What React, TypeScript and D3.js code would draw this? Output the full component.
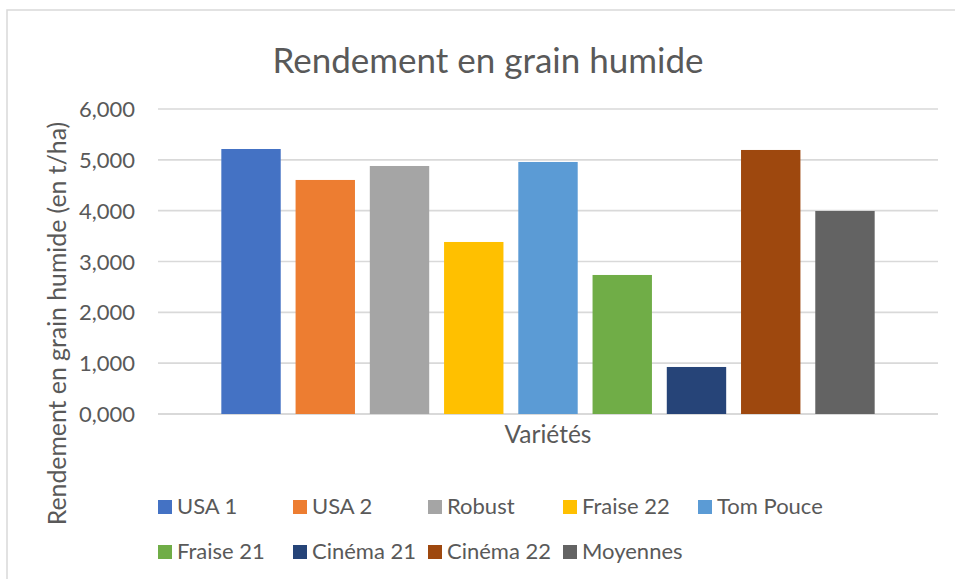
import React from "react";
import * as d3 from "d3";

const categories = ["USA 1", "USA 2", "Robust", "Fraise 22", "Tom Pouce", "Fraise 21", "Cinéma 21", "Cinéma 22", "Moyennes"];
const values = [5.213, 4.604, 4.879, 3.384, 4.958, 2.735, 0.925, 5.194, 3.994];
const colors = ["#4472C4", "#ED7D31", "#A5A5A5", "#FFC000", "#5B9BD5", "#70AD47", "#264478", "#9E480E", "#636363"];
const yTicks = [0, 1, 2, 3, 4, 5, 6];
const title = "Rendement en grain humide";
const yTitle = "Rendement en grain humide (en t/ha)";
const xTitle = "Variétés";

const W = 955;
const H = 579;
const FONT = "Lato, 'Noto Sans', sans-serif";
const TEXT = "#595959";
const GRID = "#D9D9D9";

const plot = { left: 158, right: 938, top: 109, bottom: 414 };

const locale = d3.formatLocale({ decimal: ",", thousands: " ", grouping: [3], currency: ["", " €"] });
const fmt = locale.format(".3f");

export default function App() {
  const x = d3
    .scaleBand<string>()
    .domain(categories)
    .range([plot.left, plot.right])
    .paddingInner(0.2)
    .paddingOuter(0.853);
  const y = d3.scaleLinear().domain([0, 6]).range([plot.bottom, plot.top]);

  const legendCols = 5;
  const legendX0 = 158;
  const legendDX = 135;
  const legendY0 = 500;
  const legendDY = 45;

  return (
    <svg width={W} height={H} style={{ position: "absolute", left: 0, top: 0, background: "#fff" }} fontFamily={FONT}>
      <rect x={0} y={0} width={W} height={H} fill="#fff" />
      <rect x={7} y={10} width={W + 20} height={H + 20} fill="#fff" stroke={GRID} strokeWidth={1.5} />
      <text x={488} y={73} textAnchor="middle" fontSize={35} fill={TEXT}>
        {title}
      </text>
      {yTicks.map((t) => (
        <g key={t}>
          <line x1={plot.left} x2={plot.right} y1={y(t)} y2={y(t)} stroke={GRID} strokeWidth={t === 0 ? 2 : 1.6} />
          <text x={135} y={y(t) + 8} textAnchor="end" fontSize={22} fill={TEXT}>
            {fmt(t)}
          </text>
        </g>
      ))}
      {categories.map((c, i) => (
        <rect key={c} x={x(c)} y={y(values[i])} width={x.bandwidth()} height={y(0) - y(values[i])} fill={colors[i]} />
      ))}
      <text x={(plot.left + plot.right) / 2} y={443} textAnchor="middle" fontSize={24.5} fill={TEXT}>
        {xTitle}
      </text>
      <text transform={`translate(66, 323.5) rotate(-90)`} textAnchor="middle" fontSize={24.8} fill={TEXT}>
        {yTitle}
      </text>
      {categories.map((c, i) => {
        const lx = legendX0 + (i % legendCols) * legendDX;
        const ly = legendY0 + Math.floor(i / legendCols) * legendDY;
        return (
          <g key={c}>
            <rect x={lx} y={ly} width={14} height={14} fill={colors[i]} />
            <text x={lx + 19} y={ly + 14} fontSize={22} fill={TEXT}>
              {c}
            </text>
          </g>
        );
      })}
    </svg>
  );
}
